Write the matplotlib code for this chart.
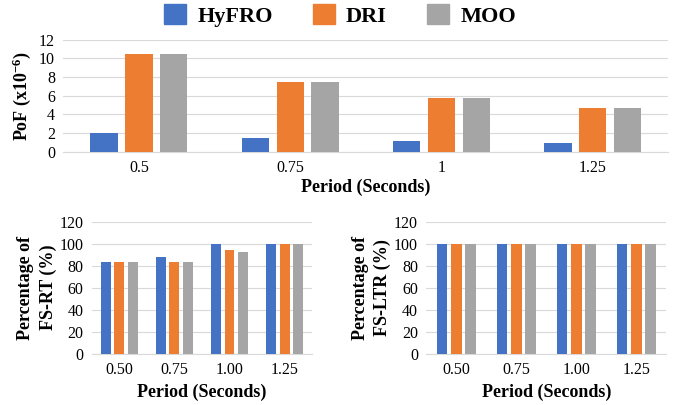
import numpy as np
import matplotlib.pyplot as plt
from matplotlib.patches import Patch

plt.rcParams['font.family'] = ['Liberation Serif', 'DejaVu Serif']
plt.rcParams['mathtext.fontset'] = 'custom'
plt.rcParams['mathtext.rm'] = 'Liberation Serif'
plt.rcParams['mathtext.bf'] = 'Liberation Serif:bold'

# data
series = ['HyFRO', 'DRI', 'MOO']
colors = ['#4472C4', '#ED7D31', '#A5A5A5']

pof_periods = ['0.5', '0.75', '1', '1.25']
pof_hyfro = [2.05, 1.5, 1.15, 0.95]
pof_dri = [10.5, 7.45, 5.8, 4.7]
pof_moo = [10.5, 7.45, 5.8, 4.7]

pct_periods = ['0.50', '0.75', '1.00', '1.25']
rt_hyfro = [83.3, 87.5, 100, 100]
rt_dri = [83.3, 83.3, 93.8, 100]
rt_moo = [83.3, 83.3, 92.3, 100]
ltr_hyfro = [100, 100, 100, 100]
ltr_dri = [100, 100, 100, 100]
ltr_moo = [100, 100, 100, 100]

fig = plt.figure(figsize=(6.8, 4.05), dpi=100)
ax_top = fig.add_axes([0.093, 0.625, 0.89, 0.277])
ax_bl = fig.add_axes([0.135, 0.127, 0.324, 0.326])
ax_br = fig.add_axes([0.627, 0.127, 0.353, 0.326])


def draw(ax, cats, vals, width, gap, ymax, step, ylabel):
    x = np.arange(len(cats))
    for i, (v, c) in enumerate(zip(vals, colors)):
        ax.bar(x + (i - 1) * (width + gap), v, width, color=c, zorder=3)
    ax.set_xticks(x)
    ax.set_xticklabels(cats)
    ax.set_xlim(-0.5, len(cats) - 0.5)
    ax.set_ylim(0, ymax)
    ax.set_yticks(np.arange(0, ymax + 0.1, step))
    ax.yaxis.grid(True, color='#D9D9D9', linewidth=0.8, zorder=0)
    for s in ['top', 'right', 'left']:
        ax.spines[s].set_visible(False)
    ax.spines['bottom'].set_color('#D9D9D9')
    ax.tick_params(length=0, labelsize=11.5, pad=6)
    ax.set_xlabel('Period (Seconds)', fontsize=13, fontweight='bold')
    ax.set_ylabel(ylabel, fontsize=13, fontweight='bold', linespacing=1.4)


draw(ax_top, pof_periods, [pof_hyfro, pof_dri, pof_moo], 0.18, 0.05, 12, 2,
     r'PoF (x10$\mathbf{^{-6}}$)')
draw(ax_bl, pct_periods, [rt_hyfro, rt_dri, rt_moo], 0.18, 0.06, 120, 20,
     'Percentage of\nFS-RT (%)')
draw(ax_br, pct_periods, [ltr_hyfro, ltr_dri, ltr_moo], 0.18, 0.06, 120, 20,
     'Percentage of\nFS-LTR (%)')
ax_top.xaxis.labelpad = 2
ax_top.yaxis.labelpad = 4
ax_bl.yaxis.labelpad = 2
ax_br.yaxis.labelpad = 2

handles = [Patch(color=c, label=s) for s, c in zip(series, colors)]
fig.legend(handles=handles, loc='center', bbox_to_anchor=(0.5, 0.962), ncol=3,
           frameon=False, prop={'size': 16, 'weight': 'bold'},
           handlelength=1.0, handleheight=1.0, columnspacing=1.8, handletextpad=0.5)

fig.savefig('out.png', dpi=100)
